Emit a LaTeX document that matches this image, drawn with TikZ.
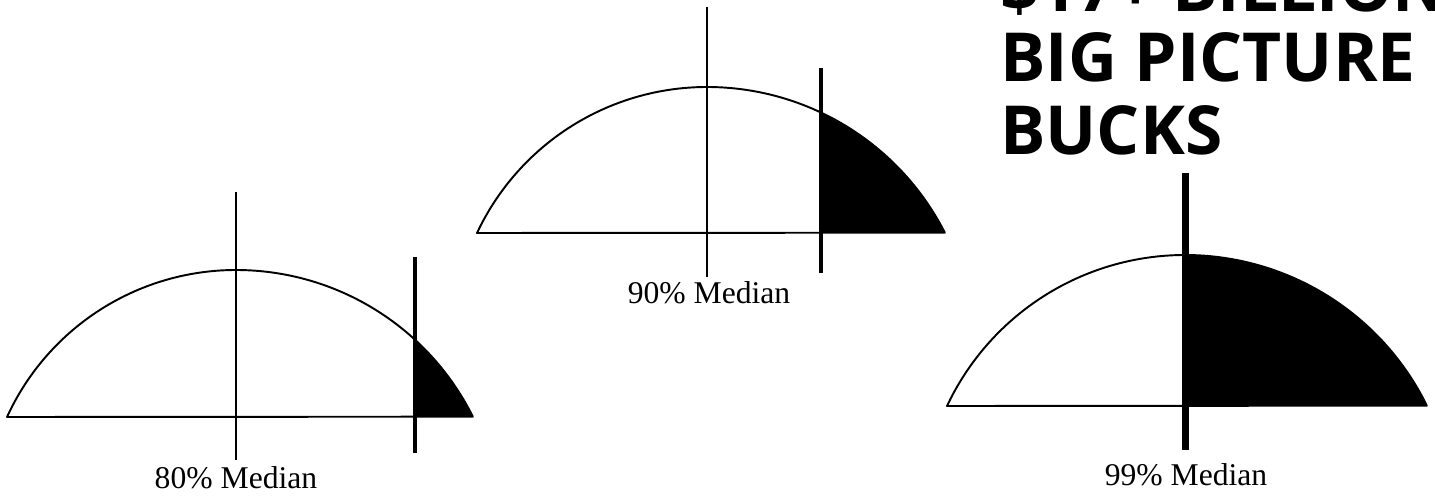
\documentclass[tikz,border=0pt]{standalone}
\usepackage{fontspec}
\setmainfont{Liberation Serif}
\newfontfamily\headfont{Open Sans}
\usetikzlibrary{positioning}

% circular arch cut by its chord: #1 position (-1..1), #2 half width / height
\pgfmathdeclarefunction{arch}{2}{\pgfmathparse{sqrt(((#2)^2+1)^2/4-((#1)*(#2))^2)-((#2)^2+1)/2+1}}

% #1 centre x, #2 base y, #3 left half width, #4 right half width, #5 height, #6 cut x
\newcommand{\bellshape}[6]{%
  \pgfmathsetmacro{\cutu}{(#6-#1)/#4}
  \pgfmathsetmacro{\ratl}{#3/#5}
  \pgfmathsetmacro{\ratr}{#4/#5}
  \fill[black] (#6,#2) -- plot[domain=\cutu:1] ({#1+#4*\x},{#2+#5*arch(\x,\ratr)}) -- cycle;
  \draw[curve] (#1-#3,#2) -- plot[domain=-1:0] ({#1+#3*\x},{#2+#5*arch(\x,\ratl)})
    -- plot[domain=0:1] ({#1+#4*\x},{#2+#5*arch(\x,\ratr)}) -- cycle;
}

\begin{document}
\begin{tikzpicture}[
  curve/.style={draw=black, line width=1.1pt, line join=round, smooth, samples=60},
  median/.style={draw=black, line width=1.1pt},
  cutline/.style={draw=black, line width=2.6pt},
  mediantext/.style={font=\fontsize{18}{20}\selectfont, inner sep=0pt},
  headline/.style={font=\headfont\bfseries\fontsize{38.5}{41}\selectfont, inner sep=0pt, anchor=base west}
]
\useasboundingbox (0,0) rectangle (28.7,9.9);

% 80% curve
\bellshape{4.72}{1.56}{4.58}{4.74}{2.94}{8.30}
\draw[median] (4.72,6.06) -- (4.72,0.70);
\draw[cutline] (8.30,4.76) -- (8.30,0.84);
\node[mediantext] (med80) at (4.72,0.34) {80\% Median};

% 90% curve
\bellshape{14.14}{5.24}{4.60}{4.76}{2.92}{16.42}
\draw[median] (14.14,9.76) -- (14.14,4.36);
\draw[cutline] (16.42,8.54) -- (16.42,4.44);
\node[mediantext] (med90) at (14.18,4.04) {90\% Median};

% 99% curve
\bellshape{23.70}{1.78}{4.76}{4.84}{3.02}{23.70}
\draw[cutline, line width=4pt] (23.70,6.44) -- (23.70,0.90);
\node[mediantext] (med99) at (23.72,0.40) {99\% Median};

% heading, first line runs off the top
\node[headline] (head1) at (20.0,9.66) {\$17+ BILLION};
\node[headline] (head2) at (20.0,8.26) {BIG PICTURE};
\node[headline] (head3) at (20.0,6.80) {BUCKS};
\end{tikzpicture}
\end{document}
